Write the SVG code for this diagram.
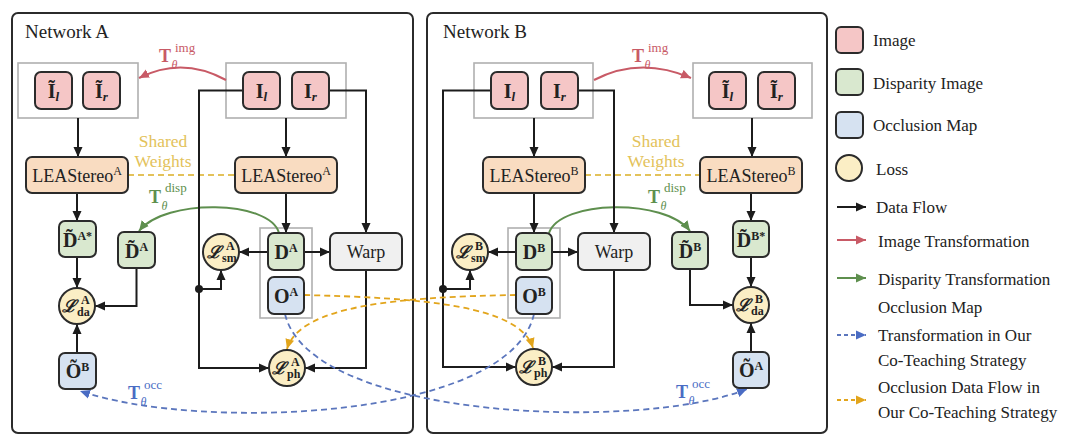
<svg xmlns="http://www.w3.org/2000/svg" width="1080" height="447" viewBox="0 0 1080 447" font-family="'Liberation Serif','Times New Roman',serif">
<defs>
<style>
text{font-family:"Liberation Serif","Times New Roman",serif;fill:#222}
.panel{fill:#fff;stroke:#2b2b2b;stroke-width:2}
.grp{fill:#fff;stroke:#b0b0b0;stroke-width:1.6}
.nd{stroke:#2b2b2b;stroke-width:2}
.img{fill:#f5c6c6}
.disp{fill:#d9e8cf}
.occ{fill:#d6e2f1}
.loss{fill:#fbeec5}
.lea{fill:#f9dcc1}
.warp{fill:#f0f0f0}
.flow{fill:none;stroke:#1c1c1c;stroke-width:2;marker-end:url(#ak)}
.red{fill:none;stroke:#c85a66;stroke-width:2;marker-end:url(#ar)}
.grn{fill:none;stroke:#5e8f4e;stroke-width:2;marker-end:url(#ag)}
.blu{fill:none;stroke:#5b76bd;stroke-width:1.8;stroke-dasharray:6 4;marker-end:url(#ab)}
.yel{fill:none;stroke:#e2a51c;stroke-width:1.8;stroke-dasharray:6 4;marker-end:url(#ay)}
.sw{fill:none;stroke:#e3c25a;stroke-width:1.8;stroke-dasharray:6 4}
.lb{font-size:20px;font-weight:bold}
.sup{font-size:12px;font-weight:bold}
.cal{font-family:"DejaVu Serif",serif;font-size:17px;font-weight:bold;font-style:italic}
.ttl{font-size:19px}
.lea-t{font-size:18px}
.leg{font-size:17px}
.tT{font-size:18px;font-weight:bold}
.th{font-size:12px;font-style:italic}
.tl{font-size:13px}
.cr{fill:#c85a66}
.cg{fill:#5e8f4e}
.cb{fill:#4a6cc4}
.cy{fill:#e3c25a;font-size:17.5px}
</style>
<marker id="ak" viewBox="0 0 10 10" refX="10" refY="5" markerWidth="10" markerHeight="10" markerUnits="userSpaceOnUse" orient="auto"><path d="M0,0.5 L10,5 L0,9.5 z" fill="#1c1c1c"/></marker>
<marker id="ar" viewBox="0 0 10 10" refX="10" refY="5" markerWidth="10" markerHeight="10" markerUnits="userSpaceOnUse" orient="auto"><path d="M0,0.5 L10,5 L0,9.5 z" fill="#c85a66"/></marker>
<marker id="ag" viewBox="0 0 10 10" refX="10" refY="5" markerWidth="10" markerHeight="10" markerUnits="userSpaceOnUse" orient="auto"><path d="M0,0.5 L10,5 L0,9.5 z" fill="#5e8f4e"/></marker>
<marker id="ab" viewBox="0 0 10 10" refX="10" refY="5" markerWidth="10" markerHeight="10" markerUnits="userSpaceOnUse" orient="auto"><path d="M0,0.5 L10,5 L0,9.5 z" fill="#4a6cc4"/></marker>
<marker id="ay" viewBox="0 0 10 10" refX="10" refY="5" markerWidth="10" markerHeight="10" markerUnits="userSpaceOnUse" orient="auto"><path d="M0,0.5 L10,5 L0,9.5 z" fill="#e2a51c"/></marker>
</defs>
<rect width="1080" height="447" fill="#fff"/>

<g id="panelA">
<rect class="panel" x="12" y="13" width="401" height="420" rx="6"/>
<text class="ttl" x="25" y="38">Network A</text>
</g>
<g id="panelB">
<rect class="panel" x="427" y="13" width="400" height="420" rx="6"/>
<text class="ttl" x="443" y="38">Network B</text>
</g>

<g id="groups">
<rect class="grp" x="18" y="63" width="120" height="55"/>
<rect class="grp" x="226" y="63" width="120" height="55"/>
<rect class="grp" x="260" y="228" width="52" height="90"/>
<rect class="grp" x="474" y="63" width="119" height="55"/>
<rect class="grp" x="693" y="63" width="119" height="55"/>
<rect class="grp" x="508" y="228" width="52" height="90"/>
</g>

<g id="connectors">
<line class="flow" x1="78" y1="118" x2="78" y2="157"/>
<line class="flow" x1="286" y1="118" x2="286" y2="157"/>
<path class="red" d="M226,80 Q182,56 139,78"/>
<line class="sw" x1="128" y1="175" x2="235" y2="175"/>
<line class="flow" x1="77" y1="193" x2="77" y2="221"/>
<line class="flow" x1="286" y1="193" x2="286" y2="233"/>
<path class="grn" d="M279,233 C270,200 165,198 139,231"/>
<line class="flow" x1="77" y1="257" x2="77" y2="288"/>
<polyline class="flow" points="136.5,268 136.5,306 95,306"/>
<line class="flow" x1="77" y1="353" x2="77" y2="324"/>
<line class="flow" x1="268" y1="252" x2="239" y2="252"/>
<line class="flow" x1="304" y1="252" x2="330" y2="252"/>
<polyline class="flow" points="243,90.5 199,90.5 199,368 269,368"/>
<circle cx="199" cy="289" r="4" fill="#1c1c1c"/>
<polyline class="flow" points="199,289 221,289 221,270"/>
<polyline class="flow" points="329,90.5 366,90.5 366,233"/>
<polyline class="flow" points="366,270 366,368 305,368"/>
<line class="flow" x1="534" y1="118" x2="534" y2="157"/>
<line class="flow" x1="752" y1="118" x2="752" y2="157"/>
<path class="red" d="M594,80 Q640,56 691,78"/>
<line class="sw" x1="585" y1="175" x2="700" y2="175"/>
<line class="flow" x1="534" y1="193" x2="534" y2="233"/>
<line class="flow" x1="751" y1="193" x2="751" y2="221"/>
<path class="grn" d="M549,233 C560,200 665,198 690,231"/>
<line class="flow" x1="516" y1="252" x2="488" y2="252"/>
<line class="flow" x1="552" y1="252" x2="578" y2="252"/>
<polyline class="flow" points="491,90.5 443,90.5 443,367 516,367"/>
<circle cx="443" cy="289" r="4" fill="#1c1c1c"/>
<polyline class="flow" points="443,289 470,289 470,270"/>
<polyline class="flow" points="578,90.5 614,90.5 614,233"/>
<polyline class="flow" points="614,270 614,367 552,367"/>
<polyline class="flow" points="690,269 690,305 733,305"/>
<line class="flow" x1="751" y1="257" x2="751" y2="287"/>
<line class="flow" x1="751" y1="352" x2="751" y2="323"/>
<path class="yel" d="M304,295 C420,298 520,305 533,348"/>
<path class="yel" d="M516,295 C400,297 300,305 287,349"/>
<path class="blu" d="M285,314 C310,420 640,432 747,389"/>
<path class="blu" d="M534,314 C510,420 200,432 80,391"/>
</g>

<g id="labels">
<text class="tT cr" x="159" y="62">T</text>
<text class="th cr" x="171.5" y="69">θ</text>
<text class="tl cr" x="175" y="52">img</text>
<text class="tT cr" x="632" y="62">T</text>
<text class="th cr" x="644.5" y="69">θ</text>
<text class="tl cr" x="648" y="52">img</text>
<text class="tT cg" x="149" y="203">T</text>
<text class="th cg" x="161.5" y="210">θ</text>
<text class="tl cg" x="165" y="192">disp</text>
<text class="tT cg" x="648" y="203">T</text>
<text class="th cg" x="660.5" y="210">θ</text>
<text class="tl cg" x="664" y="192">disp</text>
<text class="tT cb" x="128" y="399">T</text>
<text class="th cb" x="140.5" y="406">θ</text>
<text class="tl cb" x="144" y="389">occ</text>
<text class="tT cb" x="676" y="398">T</text>
<text class="th cb" x="688.5" y="405">θ</text>
<text class="tl cb" x="692" y="388">occ</text>
<text class="cy" x="163" y="147" text-anchor="middle">Shared</text>
<text class="cy" x="163" y="167" text-anchor="middle">Weights</text>
<text class="cy" x="656" y="147" text-anchor="middle">Shared</text>
<text class="cy" x="656" y="167" text-anchor="middle">Weights</text>
</g>

<g id="A_Itl">
<rect class="nd img" x="35" y="72" width="37" height="37" rx="6"/>
<text class="lb" x="53.5" y="98" text-anchor="middle">Ĩ<tspan font-size="13" font-style="italic" dy="3">l</tspan></text>
</g>
<g id="A_Itr">
<rect class="nd img" x="83" y="72" width="37" height="37" rx="6"/>
<text class="lb" x="101.5" y="98" text-anchor="middle">Ĩ<tspan font-size="13" font-style="italic" dy="3">r</tspan></text>
</g>
<g id="A_Il">
<rect class="nd img" x="243" y="72" width="37" height="37" rx="6"/>
<text class="lb" x="261.5" y="98" text-anchor="middle">I<tspan font-size="13" font-style="italic" dy="3">l</tspan></text>
</g>
<g id="A_Ir">
<rect class="nd img" x="292" y="72" width="37" height="37" rx="6"/>
<text class="lb" x="310.5" y="98" text-anchor="middle">I<tspan font-size="13" font-style="italic" dy="3">r</tspan></text>
</g>
<g id="A_LEA1">
<rect class="nd lea" x="26" y="157" width="102" height="36" rx="6"/>
<text class="lea-t" x="77" y="182" text-anchor="middle">LEAStereo<tspan font-size="12" dy="-7">A</tspan></text>
</g>
<g id="A_LEA2">
<rect class="nd lea" x="235" y="157" width="102" height="36" rx="6"/>
<text class="lea-t" x="286" y="182" text-anchor="middle">LEAStereo<tspan font-size="12" dy="-7">A</tspan></text>
</g>
<g id="A_Dstar">
<rect class="nd disp" x="59" y="221" width="37" height="36" rx="6"/>
<text class="lb" x="77.5" y="247" text-anchor="middle">D̃<tspan class="sup" dy="-7">A*</tspan></text>
</g>
<g id="A_Dt">
<rect class="nd disp" x="118" y="232" width="37" height="36" rx="6"/>
<text class="lb" x="136.5" y="258" text-anchor="middle">D̃<tspan class="sup" dy="-7">A</tspan></text>
</g>
<g id="A_Lsm">
<circle class="nd loss" cx="221" cy="252" r="18"/>
<text class="cal" x="207" y="258">ℒ</text>
<text class="sup" x="226" y="250" font-size="11">A</text>
<text class="sup" x="222" y="262" font-size="12">sm</text>
</g>
<g id="A_D">
<rect class="nd disp" x="268" y="233" width="36" height="37" rx="6"/>
<text class="lb" x="286" y="259" text-anchor="middle">D<tspan class="sup" dy="-7">A</tspan></text>
</g>
<g id="A_O">
<rect class="nd occ" x="268" y="277" width="36" height="37" rx="6"/>
<text class="lb" x="286" y="303" text-anchor="middle">O<tspan class="sup" dy="-7">A</tspan></text>
</g>
<g id="A_Warp">
<rect class="nd warp" x="330" y="233" width="72" height="37" rx="6"/>
<text class="lea-t" x="366" y="258" text-anchor="middle">Warp</text>
</g>
<g id="A_Lda">
<circle class="nd loss" cx="77" cy="306" r="18"/>
<text class="cal" x="62" y="312">ℒ</text>
<text class="sup" x="81" y="304" font-size="11">A</text>
<text class="sup" x="77" y="316" font-size="12">da</text>
</g>
<g id="A_Ot">
<rect class="nd occ" x="59" y="353" width="37" height="36" rx="6"/>
<text class="lb" x="77.5" y="378" text-anchor="middle">Õ<tspan class="sup" dy="-7">B</tspan></text>
</g>
<g id="A_Lph">
<circle class="nd loss" cx="287" cy="368" r="18"/>
<text class="cal" x="272" y="374">ℒ</text>
<text class="sup" x="291" y="366" font-size="11">A</text>
<text class="sup" x="287" y="378" font-size="12">ph</text>
</g>

<g id="B_Il">
<rect class="nd img" x="491" y="72" width="37" height="37" rx="6"/>
<text class="lb" x="509.5" y="98" text-anchor="middle">I<tspan font-size="13" font-style="italic" dy="3">l</tspan></text>
</g>
<g id="B_Ir">
<rect class="nd img" x="541" y="72" width="37" height="37" rx="6"/>
<text class="lb" x="559.5" y="98" text-anchor="middle">I<tspan font-size="13" font-style="italic" dy="3">r</tspan></text>
</g>
<g id="B_Itl">
<rect class="nd img" x="709" y="72" width="37" height="37" rx="6"/>
<text class="lb" x="727.5" y="98" text-anchor="middle">Ĩ<tspan font-size="13" font-style="italic" dy="3">l</tspan></text>
</g>
<g id="B_Itr">
<rect class="nd img" x="758" y="72" width="37" height="37" rx="6"/>
<text class="lb" x="776.5" y="98" text-anchor="middle">Ĩ<tspan font-size="13" font-style="italic" dy="3">r</tspan></text>
</g>
<g id="B_LEA1">
<rect class="nd lea" x="483" y="157" width="102" height="36" rx="6"/>
<text class="lea-t" x="534" y="182" text-anchor="middle">LEAStereo<tspan font-size="12" dy="-7">B</tspan></text>
</g>
<g id="B_LEA2">
<rect class="nd lea" x="700" y="157" width="102" height="36" rx="6"/>
<text class="lea-t" x="751" y="182" text-anchor="middle">LEAStereo<tspan font-size="12" dy="-7">B</tspan></text>
</g>
<g id="B_Lsm">
<circle class="nd loss" cx="470" cy="252" r="18"/>
<text class="cal" x="456" y="258">ℒ</text>
<text class="sup" x="475" y="250" font-size="11">B</text>
<text class="sup" x="471" y="262" font-size="12">sm</text>
</g>
<g id="B_D">
<rect class="nd disp" x="516" y="233" width="36" height="37" rx="6"/>
<text class="lb" x="534" y="259" text-anchor="middle">D<tspan class="sup" dy="-7">B</tspan></text>
</g>
<g id="B_O">
<rect class="nd occ" x="516" y="277" width="36" height="37" rx="6"/>
<text class="lb" x="534" y="303" text-anchor="middle">O<tspan class="sup" dy="-7">B</tspan></text>
</g>
<g id="B_Warp">
<rect class="nd warp" x="578" y="233" width="72" height="37" rx="6"/>
<text class="lea-t" x="614" y="258" text-anchor="middle">Warp</text>
</g>
<g id="B_Dt">
<rect class="nd disp" x="672" y="232" width="36" height="37" rx="6"/>
<text class="lb" x="690" y="258" text-anchor="middle">D̃<tspan class="sup" dy="-7">B</tspan></text>
</g>
<g id="B_Dstar">
<rect class="nd disp" x="733" y="221" width="36" height="36" rx="6"/>
<text class="lb" x="751" y="247" text-anchor="middle">D̃<tspan class="sup" dy="-7">B*</tspan></text>
</g>
<g id="B_Lda">
<circle class="nd loss" cx="751" cy="305" r="18"/>
<text class="cal" x="736" y="311">ℒ</text>
<text class="sup" x="755" y="303" font-size="11">B</text>
<text class="sup" x="751" y="315" font-size="12">da</text>
</g>
<g id="B_Ot">
<rect class="nd occ" x="733" y="352" width="36" height="36" rx="6"/>
<text class="lb" x="751" y="377" text-anchor="middle">Õ<tspan class="sup" dy="-7">A</tspan></text>
</g>
<g id="B_Lph">
<circle class="nd loss" cx="534" cy="367" r="18"/>
<text class="cal" x="519" y="373">ℒ</text>
<text class="sup" x="538" y="365" font-size="11">B</text>
<text class="sup" x="534" y="377" font-size="12">ph</text>
</g>

<g id="legend">
<rect class="nd img" x="836" y="27" width="27" height="26" rx="5"/>
<text class="leg" x="873" y="46">Image</text>
<rect class="nd disp" x="836" y="69" width="27" height="26" rx="5"/>
<text class="leg" x="873" y="89">Disparity Image</text>
<rect class="nd occ" x="836" y="112" width="27" height="26" rx="5"/>
<text class="leg" x="873" y="131">Occlusion Map</text>
<circle class="nd loss" cx="849" cy="168" r="13"/>
<text class="leg" x="876" y="175">Loss</text>
<line class="flow" x1="837" y1="207" x2="866" y2="207"/>
<text class="leg" x="876" y="213">Data Flow</text>
<line class="red" x1="837" y1="240" x2="866" y2="240"/>
<text class="leg" x="878" y="247">Image Transformation</text>
<line class="grn" x1="837" y1="278" x2="866" y2="278"/>
<text class="leg" x="878" y="285">Disparity Transformation</text>
<line class="blu" x1="837" y1="335" x2="866" y2="335" style="stroke-dasharray:4 3"/>
<text class="leg" x="878" y="313">Occlusion Map</text>
<text class="leg" x="878" y="341">Transformation in Our</text>
<text class="leg" x="878" y="366">Co-Teaching Strategy</text>
<line class="yel" x1="837" y1="400" x2="866" y2="400" style="stroke-dasharray:4 3"/>
<text class="leg" x="878" y="393">Occlusion Data Flow in</text>
<text class="leg" x="878" y="418">Our Co-Teaching Strategy</text>
</g>
</svg>
